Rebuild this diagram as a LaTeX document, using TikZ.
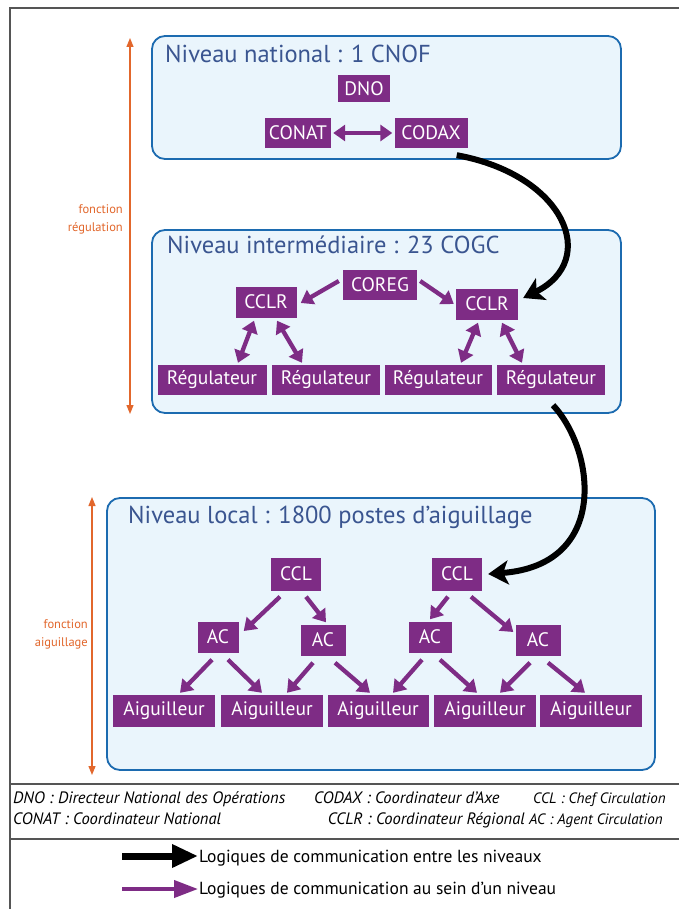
\documentclass[tikz,border=0pt]{standalone}
\usepackage{fontspec}
\setmainfont{PT Sans}
\usetikzlibrary{arrows.meta,calc}
\definecolor{purp}{HTML}{7E2C85}
\definecolor{lvlborder}{HTML}{1C6BB0}
\definecolor{lvlfill}{HTML}{EAF5FC}
\definecolor{titleblue}{HTML}{3A5590}
\definecolor{orng}{HTML}{E2672C}
\definecolor{framegray}{HTML}{555555}
\tikzset{
  lvl/.style={draw=lvlborder, fill=lvlfill, line width=1.8pt, rounded corners=13pt},
  lvltitle/.style={anchor=base west, text=titleblue, font=\fontsize{24.5}{26}\selectfont, inner sep=0pt},
  pbox/.style={fill=purp, text=white, font=\fontsize{19.5}{21}\selectfont, inner sep=0pt, minimum height=30pt},
  parr/.style={draw=purp, line width=4.3pt, -{Triangle[length=12pt,width=16pt]}},
  pdarr/.style={draw=purp, line width=4.3pt, {Triangle[length=12pt,width=16pt]}-{Triangle[length=12pt,width=16pt]}},
  barr/.style={draw=black, line width=6pt, -{Stealth[length=20pt,width=24pt,inset=5pt]}},
  oarr/.style={draw=orng, line width=1.2pt, {Triangle[length=9pt,width=7pt]}-{Triangle[length=9pt,width=7pt]}},
  olabel/.style={text=orng, font=\fontsize{12.5}{18}\selectfont, align=right, anchor=east, inner sep=0pt},
  legtext/.style={font=\itshape\fontsize{16.5}{18}\selectfont, inner sep=0pt},
  legtextsmall/.style={font=\itshape\fontsize{15}{18}\selectfont, inner sep=0pt},
  legarrtext/.style={font=\fontsize{17.5}{19}\selectfont, anchor=base west, inner sep=0pt},
  frameline/.style={draw=framegray, line width=1.4pt}
}
\begin{document}
\begin{tikzpicture}[x=1pt,y=-1pt]
\useasboundingbox (0,0) rectangle (679,909);
\clip (0,0) rectangle (679,909);
\fill[white] (0,0) rectangle (679,909);
% frame
\draw[frameline] (10,920) -- (10,8) -- (690,8);
\draw[frameline] (10,784) -- (690,784);
\draw[frameline] (10,839) -- (690,839);

% level boxes
\draw[lvl] (152,36) rectangle (621,159);
\draw[lvl] (152,230) rectangle (621,413);
\draw[lvl] (107,498) rectangle (655,770);
\node[lvltitle] (t1) at (165,63) {Niveau national : 1 CNOF};
\node[lvltitle] (t2) at (167,253) {Niveau intermédiaire : 23 COGC};
\node[lvltitle] (t3) at (128,523) {Niveau local : 1800 postes d'aiguillage};

% orange function arrows
\coordinate (oa1) at (130,38);
\coordinate (oa2) at (130,414);
\draw[oarr] (oa1) -- (oa2);
\node[olabel] (fr) at (123,219) {fonction\\régulation};
\coordinate (ob1) at (92,497);
\coordinate (ob2) at (92,775);
\draw[oarr] (ob1) -- (ob2);
\node[olabel] (fa) at (88,634) {fonction\\aiguillage};

% national
\node[pbox, minimum width=52pt, minimum height=27pt] (dno) at (364,89) {DNO};
\node[pbox, minimum width=66pt, minimum height=30pt] (conat) at (298,133) {CONAT};
\node[pbox, minimum width=73pt, minimum height=30pt] (codax) at (431,133) {CODAX};
\draw[pdarr] ($(conat.east)+(2,0)$) -- ($(codax.west)+(-2,0)$);

% intermediate
\node[pbox, minimum width=74pt] (coreg) at (380,285) {COREG};
\node[pbox, minimum width=61pt, minimum height=31pt] (cclrA) at (266,302) {CCLR};
\node[pbox, minimum width=62pt, minimum height=31pt] (cclrB) at (487,304) {CCLR};
\node[pbox, minimum width=109pt] (reg1) at (212,380) {Régulateur};
\node[pbox, minimum width=108pt] (reg2) at (326,380) {Régulateur};
\node[pbox, minimum width=107pt] (reg3) at (438,380) {Régulateur};
\node[pbox, minimum width=108pt] (reg4) at (551,380) {Régulateur};
\draw[parr] ($(coreg.west)+(-4,-4)$) -- ($(cclrA.east)+(4,1)$);
\draw[parr] ($(coreg.east)+(3,-4)$) -- ($(cclrB.west)+(-2,0)$);
\draw[pdarr] ($(cclrA.south)+(-12,3)$) -- ($(reg1.north)+(26,-2)$);
\draw[pdarr] ($(cclrA.south)+(11,3)$) -- ($(reg2.north)+(-24,-2)$);
\draw[pdarr] ($(cclrB.south)+(-9,3)$) -- ($(reg3.north)+(23,-2)$);
\draw[pdarr] ($(cclrB.south)+(15,3)$) -- ($(reg4.north)+(-29,-2)$);

% local
\node[pbox, minimum width=50pt, minimum height=33pt] (cclA) at (296,574) {CCL};
\node[pbox, minimum width=50pt, minimum height=33pt] (cclB) at (457,574) {CCL};
\node[pbox, minimum width=41pt, minimum height=31pt] (ac1) at (218,637) {AC};
\node[pbox, minimum width=45pt, minimum height=31pt] (ac2) at (323,640) {AC};
\node[pbox, minimum width=43pt, minimum height=31pt] (ac3) at (430,637) {AC};
\node[pbox, minimum width=45pt, minimum height=31pt] (ac4) at (538,640) {AC};
\node[pbox, minimum width=102pt, minimum height=32pt] (aig1) at (164,711) {Aiguilleur};
\node[pbox, minimum width=102pt, minimum height=32pt] (aig2) at (272,711) {Aiguilleur};
\node[pbox, minimum width=101pt, minimum height=32pt] (aig3) at (378,711) {Aiguilleur};
\node[pbox, minimum width=102pt, minimum height=32pt] (aig4) at (485,711) {Aiguilleur};
\node[pbox, minimum width=102pt, minimum height=32pt] (aig5) at (591,711) {Aiguilleur};
\draw[parr] ($(cclA.south)+(-16,6)$) -- ($(ac1.east)+(5,-6)$);
\draw[parr] ($(cclA.south)+(10,6)$) -- ($(ac2.north)+(3,-2)$);
\draw[parr] ($(cclB.south)+(-9,6)$) -- ($(ac3.north)+(0,-2)$);
\draw[parr] ($(cclB.south)+(14,6)$) -- ($(ac4.west)+(-2,-8)$);
\draw[parr] ($(ac1.south)+(-6,7)$) -- ($(aig1.north)+(16,-2)$);
\draw[parr] ($(ac1.south)+(10,7)$) -- ($(aig2.north)+(-10,-2)$);
\draw[parr] ($(ac2.south)+(-10,7)$) -- ($(aig2.north)+(15,-2)$);
\draw[parr] ($(ac2.south)+(12,7)$) -- ($(aig3.north)+(-8,-2)$);
\draw[parr] ($(ac3.south)+(-8,7)$) -- ($(aig3.north)+(15,-2)$);
\draw[parr] ($(ac3.south)+(10,7)$) -- ($(aig4.north)+(-8,-2)$);
\draw[parr] ($(ac4.south)+(-8,7)$) -- ($(aig4.north)+(15,-2)$);
\draw[parr] ($(ac4.south)+(10,7)$) -- ($(aig5.north)+(-6,-2)$);

% inter-level black arrows
\draw[barr] ($(codax.south east)+(-11,7)$) .. controls (565,175) and (600,260) .. ($(cclrB.east)+(5,-6)$);
\draw[barr] ($(reg4.south)+(2,10)$) .. controls (595,450) and (610,565) .. ($(cclB.east)+(6,0)$);

% legend
\node[legtext, anchor=base west] (l1) at (13,803) {DNO : Directeur National des Opérations};
\node[legtext, anchor=base west] (l2) at (314,803) {CODAX : Coordinateur d'Axe};
\node[legtextsmall, anchor=base west] (l3) at (533,803) {CCL : Chef Circulation};
\node[legtext, anchor=base west] (l4) at (13,824) {CONAT : Coordinateur National};
\node[legtext, anchor=base east] (l5) at (525,824) {CCLR : Coordinateur Régional};
\node[legtextsmall, anchor=base west] (l6) at (529,824) {AC : Agent Circulation};

\coordinate (lb1) at (122,856);
\coordinate (lb2) at (198,856);
\draw[draw=black, line width=7pt, -{Triangle[length=26pt,width=22pt]}] (lb1) -- (lb2);
\node[legarrtext] (lt1) at (199,862) {Logiques de communication entre les niveaux};
\coordinate (lp1) at (122,889);
\coordinate (lp2) at (198,889);
\draw[draw=purp, line width=4pt, -{Triangle[length=24pt,width=17pt]}] (lp1) -- (lp2);
\node[legarrtext] (lt2) at (199,894) {Logiques de communication au sein d'un niveau};
\end{tikzpicture}
\end{document}
